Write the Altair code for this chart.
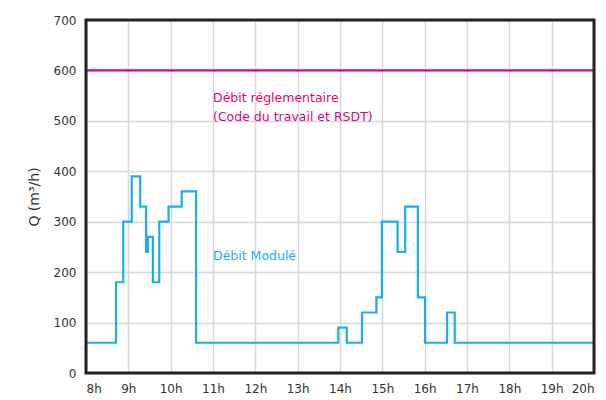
import altair as alt
import pandas as pd

hours = [8.0, 8.71, 8.88, 9.08, 9.28, 9.42, 9.46, 9.58, 9.73, 9.95, 10.26, 10.6,
         13.96, 14.16, 14.52, 14.86, 14.99, 15.36, 15.54, 15.84, 16.01, 16.53, 16.71, 20.0]
debit = [60, 180, 300, 390, 330, 240, 270, 180, 300, 330, 360, 60,
         90, 60, 120, 150, 300, 240, 330, 150, 60, 120, 60, 60]
reg_value = 600

df = pd.DataFrame({"h": hours, "q": debit})
df_reg = pd.DataFrame({"q": [reg_value]})

font = "DejaVu Sans"
cyan = "#1aafe8"
magenta = "#e5007d"

x = alt.X("h:Q", scale=alt.Scale(domain=[8, 20], nice=False),
          axis=alt.Axis(values=list(range(8, 21)), labelExpr="datum.value + 'h'",
                        title=None, grid=True, gridColor="#d8d8d8", gridWidth=1.5,
                        domain=False, ticks=False, labelPadding=10, labelFont=font,
                        labelFontSize=12, labelColor="#333333"))
y = alt.Y("q:Q", scale=alt.Scale(domain=[0, 700], nice=False),
          axis=alt.Axis(values=list(range(0, 701, 100)), title="Q (m³/h)",
                        titleFont=font, titleFontSize=14, titleFontWeight="normal",
                        titleColor="#333333", titlePadding=12,
                        grid=True, gridColor="#d8d8d8", gridWidth=1.5,
                        domain=False, ticks=False, labelPadding=10, labelFont=font,
                        labelFontSize=12, labelColor="#333333"))

line = alt.Chart(df).mark_line(interpolate="step-after", color=cyan, strokeWidth=2.2).encode(x=x, y=y)
reg = alt.Chart(df_reg).mark_rule(color=magenta, strokeWidth=2.2).encode(y="q:Q")

frame = alt.Chart(df_reg).mark_rect(fill=None, filled=False, stroke="#222222", strokeWidth=3).encode(
    x=alt.datum(8), x2=alt.datum(20), y=alt.datum(0), y2=alt.datum(700))

texts = pd.DataFrame({
    "h": [11.0, 11.0, 11.0],
    "q": [545, 508, 232],
    "t": ["Débit réglementaire", "(Code du travail et RSDT)", "Débit Modulé"],
    "c": [magenta, magenta, cyan],
})
txt = alt.Chart(texts).mark_text(align="left", baseline="middle", font=font, fontSize=12.5).encode(
    x="h:Q", y="q:Q", text="t:N", color=alt.Color("c:N", scale=None))

chart = alt.layer(line, reg, txt, frame).properties(
    width=508, height=353,
    autosize=alt.AutoSizeParams(type="none"),
    padding={"left": 78, "top": 12, "right": 4, "bottom": 27},
).configure_view(stroke=None)

chart.save("out.html", embed_options={"renderer": "svg", "actions": False})
